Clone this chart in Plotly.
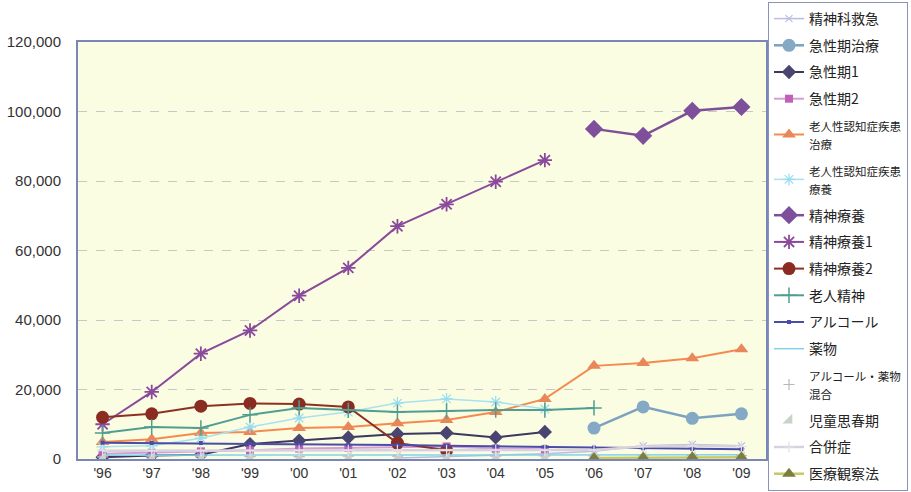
import plotly.graph_objects as go

years = ["'96", "'97", "'98", "'99", "'00", "'01", "'02", "'03", "'04", "'05", "'06", "'07", "'08", "'09"]

seishinka_kyukyu = [None, None, None, None, None, None, 300, 700, 1000, 1500, 2200, 3800, 4200, 3800]
kyuseiki_chiryo = [None] * 10 + [8900, 15000, 11700, 13000]
kyuseiki1 = [500, 1000, 1200, 4300, 5300, 6200, 7200, 7500, 6200, 7800, None, None, None, None]
kyuseiki2 = [1500, 1800, 2200, 2500, 3000, 3200, 3400, 3600, 3000, 2800, None, None, None, None]
ninchi_chiryo = [4900, 5700, 7500, 7800, 8900, 9200, 10300, 11200, 13500, 17300, 26800, 27600, 29000, 31600]
ninchi_ryoyo = [3500, 3800, 6000, 9200, 11800, 13500, 16100, 17300, 16400, 14400, None, None, None, None]
seishin_ryoyo = [None] * 10 + [95000, 93000, 100200, 101300]
seishin_ryoyo1 = [10000, 19300, 30300, 37000, 47000, 55000, 67000, 73300, 79800, 86000, None, None, None, None]
seishin_ryoyo2 = [12000, 13000, 15200, 16000, 15800, 15000, 4600, 2500, None, None, None, None, None, None]
rojin_seishin = [7500, 9200, 8900, 12700, 14700, 14000, 13500, 13800, 14100, 14100, 14700, None, None, None]
alcohol = [4700, 4600, 4600, 4300, 4200, 4100, 4000, 3800, 3600, 3500, 3300, 3100, 2900, 2800]
yakubutsu = [1100, 1100, 1100, 1100, 1100, 1100, 1100, 1100, 1100, 1100, 1100, 1200, 1200, 1200]
alc_yaku = [600, 600, 700, 700, 700, 800, 800, 800, 800, 900, 900, 900, 1000, 1000]
jido = [300, 300, 300, 300, 300, 300, 300, 300, 300, 300, 300, 300, 300, 300]
gappei = [2400, 2400, 2400, 2400, 2500, 2500, 2500, 2500, 2500, 2500, 2600, 3600, 3800, 3600]
iryo_kansatsu = [None] * 10 + [300, 400, 500, 500]

small = '<span style="font-size:11.5px">{}</span>'
names = ["精神科救急", "急性期治療", "急性期1", "急性期2",
         small.format("老人性認知症疾患<br>治療"),
         small.format("老人性認知症疾患<br>療養"),
         "精神療養", "精神療養1", "精神療養2", "老人精神",
         "アルコール", "薬物",
         small.format("アルコール・薬物<br>混合"),
         "児童思春期", "合併症", "医療観察法"]

series = [seishinka_kyukyu, kyuseiki_chiryo, kyuseiki1, kyuseiki2, ninchi_chiryo, ninchi_ryoyo,
          seishin_ryoyo, seishin_ryoyo1, seishin_ryoyo2, rojin_seishin, alcohol, yakubutsu,
          alc_yaku, jido, gappei, iryo_kansatsu]

styles = [
    dict(mode="lines+markers", line=dict(color="#b7bde3", width=1.5), marker=dict(symbol="x-thin-open", size=7, color="#b7bde3", line=dict(width=1.2, color="#b7bde3"))),
    dict(mode="lines+markers", line=dict(color="#7ba3bf", width=2.5), marker=dict(symbol="circle", size=13, color="#84a9c4")),
    dict(mode="lines+markers", line=dict(color="#3b3760", width=2), marker=dict(symbol="diamond", size=11, color="#4a4570")),
    dict(mode="lines+markers", line=dict(color="#d4a0d4", width=2), marker=dict(symbol="square", size=8, color="#c060b8")),
    dict(mode="lines+markers", line=dict(color="#f58a50", width=2), marker=dict(symbol="triangle-up", size=12, color="#e8875a")),
    dict(mode="lines+markers", line=dict(color="#a6e2f0", width=1.5), marker=dict(symbol="asterisk-open", size=10, color="#98dcee", line=dict(width=1.2, color="#98dcee"))),
    dict(mode="lines+markers", line=dict(color="#7c4f98", width=2.5), marker=dict(symbol="diamond", size=14, color="#7e509c")),
    dict(mode="lines+markers", line=dict(color="#8a4a9c", width=2), marker=dict(symbol="asterisk-open", size=12, color="#8a4a9c", line=dict(width=1.8, color="#8a4a9c"))),
    dict(mode="lines+markers", line=dict(color="#8c3022", width=2), marker=dict(symbol="circle", size=13, color="#8b2c22")),
    dict(mode="lines+markers", line=dict(color="#4f9e90", width=2), marker=dict(symbol="cross-thin-open", size=11, color="#4f9e90", line=dict(width=1.5, color="#4f9e90"))),
    dict(mode="lines+markers", line=dict(color="#4a4ca8", width=2), marker=dict(symbol="square", size=4, color="#4a4ca8")),
    dict(mode="lines", line=dict(color="#7fd3ec", width=1.5)),
    dict(mode="markers", marker=dict(symbol="cross-thin-open", size=8, color="#b8b8c0", line=dict(width=1.2, color="#b8b8c0"))),
    dict(mode="markers", marker=dict(symbol="triangle-se", size=11, color="#c8d2c8")),
    dict(mode="lines+markers", line=dict(color="#d8d0e0", width=2.5), marker=dict(symbol="cross-thin-open", size=8, color="#e0e0e8", line=dict(width=1.2, color="#e0e0e8"))),
    dict(mode="lines+markers", line=dict(color="#c8c864", width=2.5), marker=dict(symbol="triangle-up", size=12, color="#7d7d3c")),
]

fig = go.Figure()
for i, (nm, vals, st) in enumerate(zip(names, series, styles)):
    fig.add_trace(go.Scatter(x=years, y=vals, name=nm, legendgroup=f"g{i}", **st))

fig.update_layout(
    width=911, height=492,
    margin=dict(l=78, r=145, t=42, b=33, autoexpand=False),
    paper_bgcolor="white",
    plot_bgcolor="#fbfde2",
    font=dict(family="Noto Sans CJK JP, Noto Sans, sans-serif", color="#333333"),
    showlegend=True,
    legend=dict(
        xref="container", yref="container",
        x=768 / 911, xanchor="left", y=1 - 2 / 492, yanchor="top",
        bgcolor="white", bordercolor="#8a92b8", borderwidth=1,
        font=dict(size=14, color="#222222"),
        tracegroupgap=5.5,
        traceorder="grouped",
        maxheight=700,
    ),
)

fig.update_xaxes(
    type="category", range=[-0.5, 13.5],
    showline=True, linecolor="#7a86b8", linewidth=2, mirror=True,
    showgrid=False, ticks="", tickfont=dict(size=14, family="Liberation Sans, Arial"),
)
fig.update_yaxes(
    range=[0, 120000], dtick=20000, tickformat=",",
    showline=True, linecolor="#7a86b8", linewidth=2, mirror=True,
    showgrid=True, gridcolor="#c8c8c8", griddash="dash", gridwidth=1,
    zeroline=False, ticks="", ticklabelstandoff=12,
    tickfont=dict(size=15, family="Liberation Sans, Arial"),
)

fig.write_html("out.html", config={"displayModeBar": False},
               post_script="document.body.style.margin='0';")
